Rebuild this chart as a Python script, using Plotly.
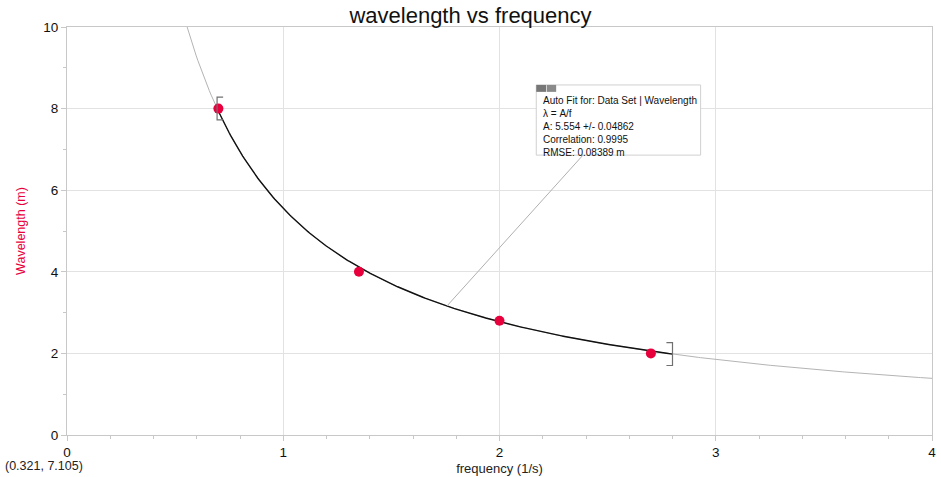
import numpy as np
import plotly.graph_objects as go

# data
frequency = [0.7, 1.35, 2.0, 2.7]
wavelength = [8.0, 4.0, 2.8, 2.0]
fit_A = 5.554
fit_range = [0.7, 2.8]
x_ticks = [0, 1, 2, 3, 4]
y_ticks = [0, 2, 4, 6, 8, 10]
fit_lines = ["Auto Fit for: Data Set | Wavelength", "λ = A/f", "A: 5.554 +/- 0.04862",
             "Correlation: 0.9995", "RMSE: 0.08389 m"]
cursor_text = "(0.321, 7.105)"

RED = "#e8003d"
GRID = "#e2e2e2"
FONT = "Liberation Sans, Arial, sans-serif"

f_all = np.linspace(0.5, 4.0, 400)
f_fit = np.linspace(fit_range[0], fit_range[1], 300)

fig = go.Figure()
fig.add_trace(go.Scatter(x=f_all, y=fit_A / f_all, mode="lines",
                         line=dict(color="#b4b4b4", width=1), hoverinfo="skip"))
fig.add_trace(go.Scatter(x=f_fit, y=fit_A / f_fit, mode="lines",
                         line=dict(color="#111111", width=1.4), hoverinfo="skip"))
fig.add_trace(go.Scatter(x=frequency, y=wavelength, mode="markers",
                         marker=dict(color=RED, size=10)))

# brackets at fit range ends
bw = 0.028
bh = 0.28
for xe, side in [(fit_range[0] - 0.006, 1), (fit_range[1], -1)]:
    yc = fit_A / xe
    fig.add_trace(go.Scatter(x=[xe + side * bw, xe, xe, xe + side * bw],
                             y=[yc + bh, yc + bh, yc - bh, yc - bh], mode="lines",
                             line=dict(color="#707070", width=1.2), hoverinfo="skip"))

# annotation box
bx0, bx1, by0, by1 = 2.17, 2.93, 6.86, 8.58
fig.add_shape(type="line", x0=2.386, y0=by0, x1=1.757, y1=fit_A / 1.757,
              line=dict(color="#b0b0b0", width=1))
fig.add_shape(type="rect", x0=bx0, x1=bx1, y0=by0, y1=by1,
              line=dict(color="#d0d0d0", width=1), fillcolor="white")
fig.add_shape(type="rect", x0=bx0, x1=bx0 + 0.045, y0=by1 - 0.17, y1=by1,
              line=dict(width=0), fillcolor="#777777")
fig.add_shape(type="rect", x0=bx0 + 0.048, x1=bx0 + 0.092, y0=by1 - 0.17, y1=by1,
              line=dict(width=0), fillcolor="#8a8a8a")
fig.add_annotation(x=bx0 + 0.02, y=by1 - 0.2, xanchor="left", yanchor="top",
                   text="<br>".join(fit_lines), showarrow=False, align="left",
                   font=dict(family=FONT, size=10, color="#111"))

fig.add_annotation(x=-0.074, y=-0.076, xref="paper", yref="paper", xanchor="left",
                   yanchor="middle", text=cursor_text, showarrow=False,
                   font=dict(family=FONT, size=12.5, color="#222"))

fig.update_layout(
    width=941, height=477,
    margin=dict(l=67, r=9, t=27, b=42),
    paper_bgcolor="white", plot_bgcolor="white",
    showlegend=False,
    font=dict(family=FONT, color="#222"),
    title=dict(text="wavelength vs frequency", x=0.5, xanchor="center", y=1 - 15 / 477,
               yanchor="middle", font=dict(family=FONT, size=22, color="#111")),
)
fig.update_xaxes(range=[0, 4], tickvals=x_ticks, showgrid=True, gridcolor=GRID,
                 showline=True, linecolor="#c8c8c8", mirror=True, zeroline=False,
                 automargin=False,
                 ticks="outside", ticklen=5, tickcolor="#c8c8c8",
                 tickfont=dict(size=13.5, color="#111"),
                 title=dict(text="frequency (1/s)", standoff=4, font=dict(size=13)),
                 minor=dict(dtick=0.2, ticks="outside", ticklen=3, tickcolor="#c8c8c8",
                            showgrid=False))
fig.update_yaxes(range=[0, 10], tickvals=y_ticks, showgrid=True, gridcolor=GRID,
                 showline=True, linecolor="#c8c8c8", mirror=True, zeroline=False,
                 automargin=False,
                 ticks="outside", ticklen=5, tickcolor="#c8c8c8",
                 tickfont=dict(size=13.5, color="#111"),
                 title=dict(text="Wavelength (m)", standoff=14,
                            font=dict(size=12.5, color=RED)),
                 minor=dict(dtick=1, ticks="outside", ticklen=3, tickcolor="#c8c8c8",
                            showgrid=False))

fig.write_html("out.html", config={"displayModeBar": False},
               post_script="document.body.style.margin='0';")
